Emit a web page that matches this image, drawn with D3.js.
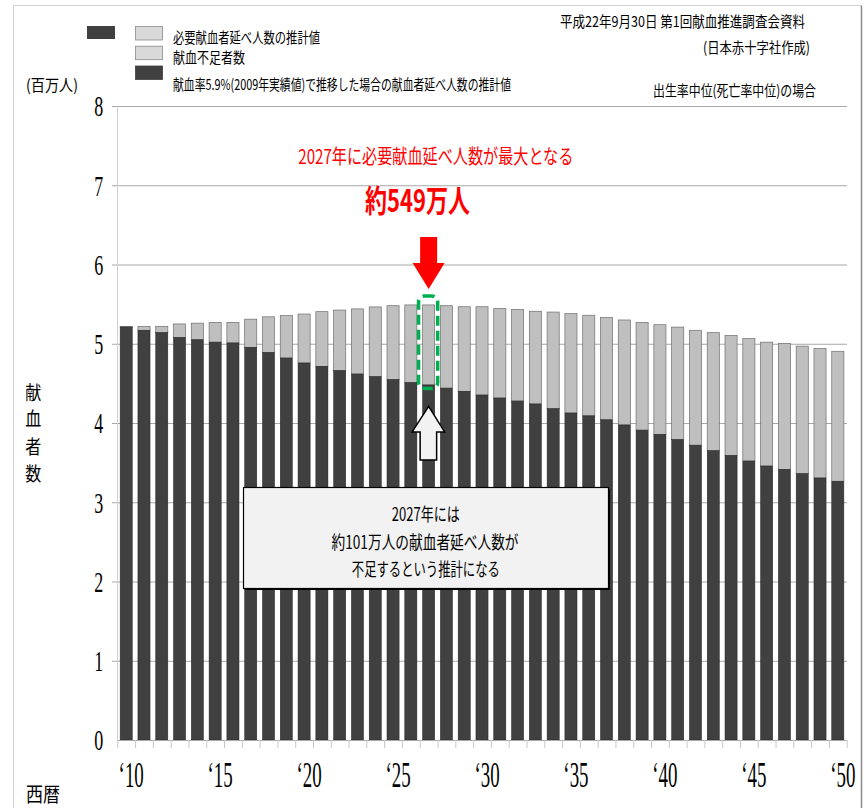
<!DOCTYPE html>
<html><head><meta charset="utf-8">
<script src="https://cdn.jsdelivr.net/npm/d3@7"></script>
<style>body{margin:0;background:#fff}svg{display:block}</style>
</head><body>
<script>
// ---- data (millions of people) ----
const years = [2010,2011,2012,2013,2014,2015,2016,2017,2018,2019,2020,2021,2022,2023,2024,2025,2026,2027,2028,2029,2030,2031,2032,2033,2034,2035,2036,2037,2038,2039,2040,2041,2042,2043,2044,2045,2046,2047,2048,2049,2050];
const required = [5.22,5.22,5.22,5.25,5.26,5.27,5.27,5.31,5.34,5.355,5.375,5.405,5.425,5.44,5.465,5.48,5.49,5.49,5.48,5.467,5.467,5.443,5.434,5.41,5.40,5.38,5.36,5.33,5.30,5.27,5.24,5.21,5.17,5.14,5.105,5.065,5.02,5.005,4.97,4.94,4.905];
const donors = [5.21,5.17,5.14,5.08,5.05,5.02,5.01,4.955,4.89,4.82,4.757,4.715,4.66,4.618,4.585,4.547,4.51,4.48,4.44,4.40,4.353,4.315,4.277,4.24,4.18,4.126,4.09,4.04,3.975,3.91,3.857,3.79,3.72,3.65,3.59,3.52,3.457,3.415,3.36,3.306,3.265];
const yTicks = [0,1,2,3,4,5,6,7,8];
const xTickYears = [2010,2015,2020,2025,2030,2035,2040,2045,2050];
const xTickLabels = ["‘10","‘15","‘20","‘25","‘30","‘35","‘40","‘45","‘50"];
const legendLabels = ["必要献血者延べ人数の推計値","献血不足者数","献血率5.9%(2009年実績値)で推移した場合の献血者延べ人数の推計値"];
const peakYear = 2027;

const W = 868, H = 808;
const JP = "'Noto Sans CJK JP','Noto Sans CJK SC',sans-serif";
const SERIF = "'Liberation Serif','DejaVu Serif',serif";
const svg = d3.select("body").append("svg").attr("width", W).attr("height", H);

function txt(parent, s, x, y, o) {
  o = o || {};
  const t = parent.append("text").attr("x", x).attr("y", y)
    .attr("font-family", o.font || JP).attr("font-size", o.size || 16)
    .attr("fill", o.fill || "#000").attr("text-anchor", o.anchor || "start")
    .attr("dominant-baseline", "central").text(s);
  if (o.width) t.attr("textLength", o.width).attr("lengthAdjust", "spacingAndGlyphs");
  if (o.weight) t.attr("font-weight", o.weight);
  return t;
}

// frame
svg.append("line").attr("x1",13.5).attr("x2",861.5).attr("y1",5.5).attr("y2",5.5).attr("stroke","#d0d0d0");
svg.append("line").attr("x1",13.5).attr("x2",13.5).attr("y1",5.5).attr("y2",H).attr("stroke","#d0d0d0");
svg.append("line").attr("x1",861.5).attr("x2",861.5).attr("y1",5.5).attr("y2",H).attr("stroke","#8a8a8a").attr("stroke-width",1.5);

// scales
const x = d3.scaleBand().domain(years).range([117.3, 846.7]).paddingInner(0.32).paddingOuter(0.16);
const y = d3.scaleLinear().domain([0, 8]).range([740, 106]);

// gridlines
svg.append("g").selectAll("line").data(yTicks.filter(d => d > 0)).join("line")
  .attr("x1", 112).attr("x2", 847).attr("y1", d => y(d) + 0.5).attr("y2", d => y(d) + 0.5)
  .attr("stroke", "#a8a8a8").attr("stroke-width", 1);
// y axis line
svg.append("line").attr("x1",117.5).attr("x2",117.5).attr("y1",y(8)).attr("y2",y(0)).attr("stroke","#d0d0d0");

// y tick labels via axis
const yAxis = svg.append("g").attr("transform", "translate(117.3,0)")
  .call(d3.axisLeft(y).tickValues(yTicks).tickSize(0).tickPadding(0));
yAxis.select(".domain").remove();
yAxis.selectAll("text").attr("font-family", SERIF).attr("font-size", 30).attr("fill", "#000")
  .attr("x", -14 / 0.6).attr("transform", "scale(0.6,1)").attr("dy", "0.33em");

// bars
const bw = x.bandwidth();
svg.append("g").selectAll("rect").data(years).join("rect")
  .attr("x", d => x(d)).attr("width", bw)
  .attr("y", (d, i) => y(required[i])).attr("height", (d, i) => y(donors[i]) - y(required[i]))
  .attr("fill", "#bfbfbf").attr("stroke", "#6e6e6e").attr("stroke-width", 0.7);
svg.append("g").selectAll("rect").data(years).join("rect")
  .attr("x", d => x(d)).attr("width", bw)
  .attr("y", (d, i) => y(donors[i])).attr("height", (d, i) => y(0) - y(donors[i]))
  .attr("fill", "#404040").attr("stroke", "#222").attr("stroke-width", 0.5);

// x axis
svg.append("line").attr("x1",117.3).attr("x2",846.7).attr("y1",740.5).attr("y2",740.5).attr("stroke","#a8a8a8");
const step = x.step();
svg.append("g").selectAll("line").data(years.concat([2051])).join("line")
  .attr("x1", (d, i) => 117.3 + i * step + 0.5).attr("x2", (d, i) => 117.3 + i * step + 0.5)
  .attr("y1", 740).attr("y2", 748).attr("stroke", "#c8c8c8");
const xl = svg.append("g");
xTickYears.forEach((yr, i) => {
  const cx = x(yr) + bw / 2 + 5;
  xl.append("text").attr("transform", `translate(${cx},775) scale(0.54,1)`)
    .attr("text-anchor", "middle").attr("dominant-baseline", "central")
    .attr("font-family", SERIF).attr("font-size", 35).attr("fill", "#000").text(xTickLabels[i]);
});

// legend
svg.append("rect").attr("x",87).attr("y",26).attr("width",28).attr("height",13).attr("fill","#404040");
const legY = [26, 45.7, 65.5];
const legFill = ["#d9d9d9", "#d9d9d9", "#404040"];
legY.forEach((ly, i) => {
  svg.append("rect").attr("x", 135.5).attr("y", ly + 0.5).attr("width", 27).attr("height", 13.5)
    .attr("fill", legFill[i]).attr("stroke", i < 2 ? "#8a8a8a" : "#404040").attr("stroke-width", 0.8);
});
txt(svg, legendLabels[0], 173, 36.5, {size: 14.5, width: 147});
txt(svg, legendLabels[1], 173, 56, {size: 14.5, width: 72});
txt(svg, legendLabels[2], 173, 83, {size: 15, width: 338});

// top-right notes
txt(svg, "平成22年9月30日 第1回献血推進調査会資料", 560, 20.5, {size: 15, width: 245});
txt(svg, "(日本赤十字社作成)", 703, 46.7, {size: 15, width: 107});
txt(svg, "出生率中位(死亡率中位)の場合", 653, 89, {size: 15, width: 163});

// axis titles
txt(svg, "(百万人)", 26, 84, {size: 16, width: 52});
const vt = "献血者数".split("");
const vy = [391, 417, 445, 472];
vt.forEach((c, i) => txt(svg, c, 33.3, vy[i], {size: 19, width: 16, anchor: "middle"}));
txt(svg, "西暦", 26, 793, {size: 20, width: 34});

// annotations
const pi = years.indexOf(peakYear);
const pcx = x(peakYear) + bw / 2;
txt(svg, "2027年に必要献血延べ人数が最大となる", 435.8, 155, {size: 20, width: 275, fill: "#ff0000", anchor: "middle"});
txt(svg, "約549万人", 417.5, 198, {size: 31, width: 105, fill: "#ff0000", anchor: "middle", weight: "bold"});

// red down arrow
const rTip = y(required[pi]) - 16;
svg.append("path").attr("d", `M${pcx-8.5},${rTip-52}H${pcx+8.5}V${rTip-26}H${pcx+16}L${pcx},${rTip}L${pcx-16},${rTip-26}H${pcx-8.5}Z`)
  .attr("fill", "#ff0000");

// green dashed highlight
const gTop = y(required[pi]) - 9, gBot = y(donors[pi]) + 3.5;
svg.append("rect").attr("x", x(peakYear) - 4).attr("width", bw + 7).attr("y", gTop).attr("height", gBot - gTop)
  .attr("rx", 6).attr("fill", "none").attr("stroke", "#00b050").attr("stroke-width", 3.5)
  .attr("stroke-dasharray", "10,5");

// white up arrow
const wTip = y(donors[pi]) + 21.5;
svg.append("path").attr("d", `M${pcx},${wTip}L${pcx+16},${wTip+25.5}H${pcx+8}V${wTip+53.5}H${pcx-8.5}V${wTip+25.5}H${pcx-16.5}Z`)
  .attr("fill", "#f2f2f2").attr("stroke", "#000").attr("stroke-width", 1.5).attr("stroke-linejoin", "miter");

// callout box
svg.append("rect").attr("x", 245).attr("y", 489).attr("width", 365).attr("height", 101).attr("fill", "#000");
svg.append("rect").attr("x", 243.5).attr("y", 487.5).attr("width", 365).attr("height", 101)
  .attr("fill", "#f2f2f2").attr("stroke", "#000").attr("stroke-width", 1.2);
txt(svg, "2027年には", 425.8, 512.5, {size: 18, width: 68, anchor: "middle"});
txt(svg, "約101万人の献血者延べ人数が", 425, 540.5, {size: 18, width: 187, anchor: "middle"});
txt(svg, "不足するという推計になる", 425.8, 568.3, {size: 18, width: 148, anchor: "middle"});
</script>
</body></html>
